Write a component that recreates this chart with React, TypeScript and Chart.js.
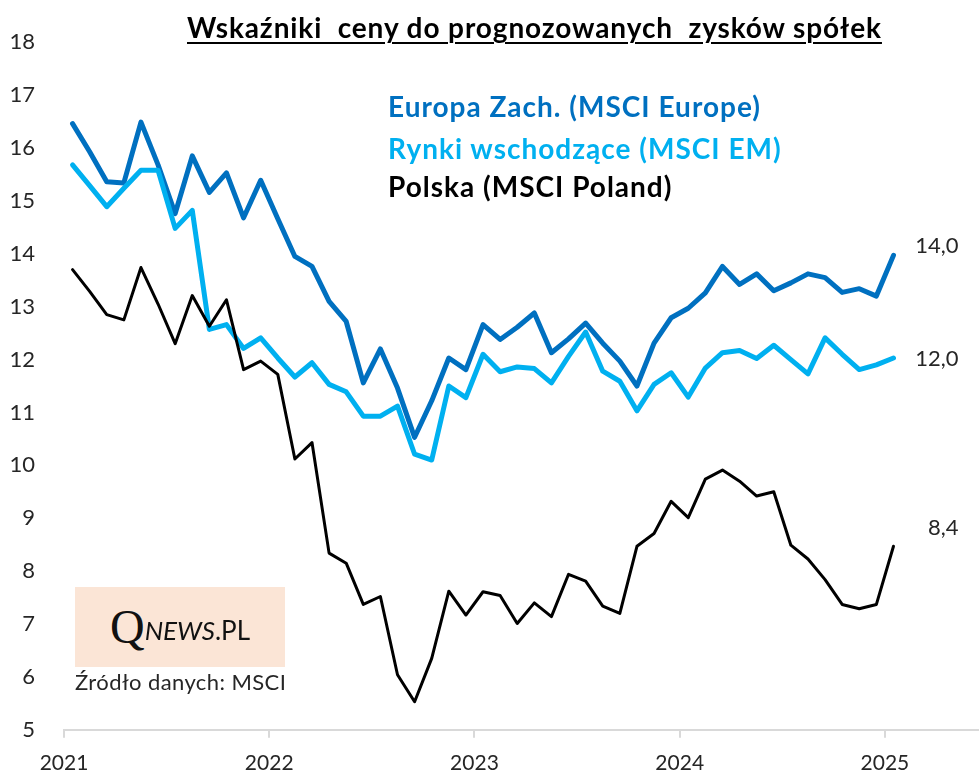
import React, { useEffect, useRef } from "react";
import { Chart, registerables } from "chart.js";

Chart.register(...registerables);

// ---- data (monthly, Jan 2021 .. Jan 2025) ----
const YEAR_LABELS = ["2021", "2022", "2023", "2024", "2025"];
const Y_TICKS = [5, 6, 7, 8, 9, 10, 11, 12, 13, 14, 15, 16, 17, 18];

const europe = [
  16.46, 15.93, 15.36, 15.34, 16.49, 15.68, 14.76, 15.85, 15.16, 15.53, 14.68, 15.39,
  14.66, 13.95, 13.76, 13.1, 12.72, 11.56, 12.2, 11.46, 10.53, 11.22, 12.03, 11.81,
  12.66, 12.38, 12.61, 12.88, 12.13, 12.39, 12.69, 12.31, 11.97, 11.5, 12.31, 12.79,
  12.97, 13.26, 13.76, 13.42, 13.62, 13.3, 13.45, 13.62, 13.55, 13.27, 13.34, 13.2,
  13.97,
];

const em = [
  15.68, 15.29, 14.89, 15.24, 15.58, 15.58, 14.48, 14.82, 12.57, 12.66, 12.21, 12.41,
  12.03, 11.67, 11.94, 11.53, 11.39, 10.93, 10.93, 11.12, 10.21, 10.1, 11.5, 11.28,
  12.1, 11.77, 11.86, 11.83, 11.56, 12.06, 12.52, 11.78, 11.59, 11.03, 11.53, 11.75,
  11.29, 11.84, 12.13, 12.17, 12.02, 12.27, 12.0, 11.73, 12.41, 12.1, 11.81, 11.9,
  12.03,
];

const poland = [
  13.7, 13.29, 12.85, 12.75, 13.74, 13.05, 12.3, 13.21, 12.63, 13.13, 11.81, 11.97,
  11.72, 10.12, 10.43, 8.34, 8.15, 7.37, 7.52, 6.04, 5.53, 6.35, 7.62, 7.17,
  7.61, 7.54, 7.01, 7.4, 7.14, 7.94, 7.81, 7.34, 7.2, 8.47, 8.71, 9.32,
  9.01, 9.74, 9.91, 9.7, 9.42, 9.5, 8.49, 8.23, 7.84, 7.37, 7.29, 7.37,
  8.47,
];

const SERIES_NAMES = ["Europa Zach. (MSCI Europe)", "Rynki wschodzące (MSCI EM)", "Polska (MSCI Poland)"];
const END_LABELS = ["14,0", "12,0", "8,4"];
const TITLE = "Wskaźniki  ceny do prognozowanych  zysków spółek";
const SOURCE = "Źródło danych: MSCI";

const COLORS = ["#0070C0", "#00B0F0", "#000000"];
const TEXT = "#262626";
const FONT = "Lato, 'Open Sans', sans-serif";

const toPoints = (arr: number[]) => arr.map((v, i) => ({ x: i + 0.5, y: v }));

const endLabelPlugin = {
  id: "endLabels",
  afterDatasetsDraw(chart: any) {
    const ctx = chart.ctx;
    chart.data.datasets.forEach((ds: any, di: number) => {
      const meta = chart.getDatasetMeta(di);
      const pt = meta.data[meta.data.length - 1];
      if (!pt) return;
      ctx.save();
      ctx.font = `22px ${FONT}`;
      ctx.fillStyle = TEXT;
      ctx.textAlign = "right";
      ctx.textBaseline = "middle";
      ctx.fillText(ds.endLabel, pt.x + 65, pt.y + ds.endDy);
      ctx.restore();
    });
  },
};

export default function App() {
  const canvasRef = useRef<HTMLCanvasElement | null>(null);

  useEffect(() => {
    if (!canvasRef.current) return;
    const series = [europe, em, poland];
    const widths = [5, 5, 3];
    const dys = [-9, 1, -18];
    const datasets = series.map((s, k) => ({
      label: SERIES_NAMES[k],
      data: toPoints(s),
      borderColor: COLORS[k],
      backgroundColor: COLORS[k],
      borderWidth: widths[k],
      pointRadius: 0,
      tension: 0,
      borderJoinStyle: "round",
      borderCapStyle: "round",
      endLabel: END_LABELS[k],
      endDy: dys[k],
      order: 2 - k,
    }));

    const chart = new Chart(canvasRef.current, {
      type: "line",
      data: { datasets: datasets as any },
      options: {
        animation: false,
        responsive: false,
        maintainAspectRatio: false,
        devicePixelRatio: 1,
        layout: { padding: { top: 40, right: 0, bottom: 0, left: 0 } },
        plugins: {
          legend: { display: false },
          tooltip: { enabled: false },
          title: { display: false },
        },
        scales: {
          x: {
            type: "linear",
            min: 0,
            max: 53.5,
            afterBuildTicks: (s: any) => {
              s.ticks = YEAR_LABELS.map((_, k) => ({ value: k * 12 }));
            },
            afterFit: (s: any) => {
              s.height = 42;
            },
            ticks: {
              autoSkip: false,
              maxRotation: 0,
              padding: 13,
              color: TEXT,
              font: { family: FONT, size: 21 },
              callback: (v: any) => YEAR_LABELS[Math.round(Number(v) / 12)] ?? "",
            },
            grid: {
              drawOnChartArea: false,
              drawTicks: true,
              tickLength: 8,
              color: "#d9d9d9",
              lineWidth: 2,
            },
            border: { display: true, color: "#d9d9d9", width: 2 },
          },
          y: {
            type: "linear",
            min: 5,
            max: 18,
            afterBuildTicks: (s: any) => {
              s.ticks = Y_TICKS.map((v) => ({ value: v }));
            },
            afterFit: (s: any) => {
              s.width = 64;
            },
            ticks: {
              padding: 29,
              color: TEXT,
              font: { family: FONT, size: 22 },
            },
            grid: { display: false, drawTicks: false },
            border: { display: false },
          },
        },
      },
      plugins: [endLabelPlugin],
    } as any);

    return () => chart.destroy();
  }, []);

  return (
    <div style={{ position: "absolute", left: 0, top: 0, width: 979, height: 772, background: "#fff", overflow: "hidden" }}>
      <canvas ref={canvasRef} width={979} height={772} style={{ width: 979, height: 772, display: "block" }} />
      <div
        style={{
          position: "absolute",
          left: 187,
          top: 11,
          fontFamily: FONT,
          fontWeight: 700,
          fontSize: 28,
          letterSpacing: "0.9px",
          color: "#000",
          whiteSpace: "pre",
          textDecoration: "underline",
          textDecorationThickness: "2px",
          textUnderlineOffset: "4px",
          lineHeight: "32px",
        }}
      >
        {TITLE}
      </div>
      {SERIES_NAMES.map((n, k) => (
        <div
          key={n}
          style={{
            position: "absolute",
            left: 388,
            top: [90, 132, 170][k],
            fontFamily: FONT,
            fontWeight: 700,
            fontSize: 28,
            letterSpacing: "1px",
            lineHeight: "32px",
            color: k === 2 ? "#000" : COLORS[k],
            whiteSpace: "pre",
          }}
        >
          {n}
        </div>
      ))}
      <div
        style={{
          position: "absolute",
          left: 75,
          top: 587,
          width: 210,
          height: 80,
          background: "#FBE5D6",
          display: "flex",
          alignItems: "center",
          justifyContent: "center",
          color: "#111",
        }}
      >
        <span style={{ fontFamily: "'Liberation Serif', 'DejaVu Serif', serif", fontSize: 48, lineHeight: "48px" }}>Q</span>
        <span style={{ fontFamily: FONT, fontSize: 26, fontStyle: "italic", lineHeight: "48px", position: "relative", top: 3 }}>NEWS</span>
        <span style={{ fontFamily: FONT, fontSize: 26, lineHeight: "48px", position: "relative", top: 3 }}>.PL</span>
      </div>
      <div
        style={{
          position: "absolute",
          left: 75,
          top: 668,
          fontFamily: FONT,
          fontSize: 22,
          letterSpacing: "0.4px",
          lineHeight: "28px",
          color: TEXT,
          whiteSpace: "pre",
        }}
      >
        {SOURCE}
      </div>
    </div>
  );
}
